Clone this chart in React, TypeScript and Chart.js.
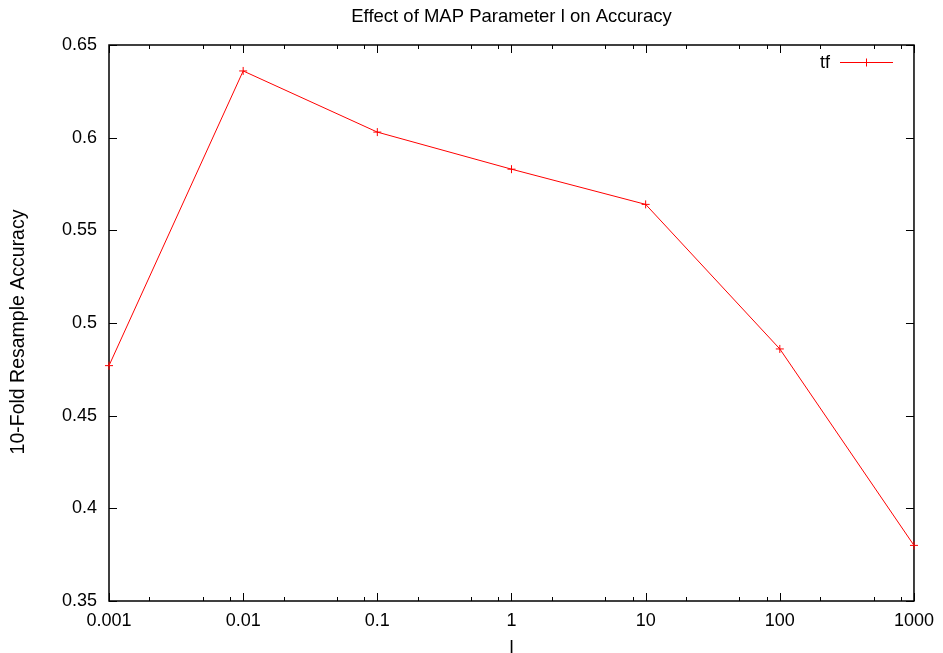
import React, { useEffect, useRef } from "react";
import Chart from "chart.js/auto";

// MAP parameter l (log scale) and the measured accuracy for the "tf" run
const paramValues = [0.001, 0.01, 0.1, 1, 10, 100, 1000];
const accuracyTf = [0.477, 0.636, 0.603, 0.583, 0.564, 0.486, 0.380];

const xTickValues = [0.001, 0.01, 0.1, 1, 10, 100, 1000];
const xTickLabels = ["0.001", "0.01", "0.1", "1", "10", "100", "1000"];
const yTickValues = [0.35, 0.4, 0.45, 0.5, 0.55, 0.6, 0.65];
const yTickLabels = ["0.35", "0.4", "0.45", "0.5", "0.55", "0.6", "0.65"];
const xMinorFactors = [2, 5, 8];

const chartTitle = "Effect of MAP Parameter l on Accuracy";
const xTitle = "l";
const yTitle = "10-Fold Resample Accuracy";
const seriesName = "tf";

const FONT = '"Liberation Sans", Arial, sans-serif';
const RED = "#ff0000";

function drawCross(ctx: CanvasRenderingContext2D, x: number, y: number, r: number) {
  ctx.beginPath();
  ctx.moveTo(x - r, y);
  ctx.lineTo(x + r, y);
  ctx.moveTo(x, y - r);
  ctx.lineTo(x, y + r);
  ctx.stroke();
}

// Frame with inward ticks mirrored on all four sides, plus titles and legend
const gnuplotFrame = {
  id: "gnuplotFrame",
  beforeDatasetsDraw(chart: any) {
    const ctx: CanvasRenderingContext2D = chart.ctx;
    const { left, right, top, bottom } = chart.chartArea;
    const xs = chart.scales.x;
    const ys = chart.scales.y;
    ctx.save();
    ctx.strokeStyle = "#000";
    ctx.lineWidth = 1.5;
    ctx.strokeRect(left, top, right - left, bottom - top);
    ctx.lineWidth = 1;
    const major = 8;
    const minor = 4;
    ctx.beginPath();
    for (const v of xTickValues) {
      const px = Math.round(xs.getPixelForValue(v)) + 0.5;
      ctx.moveTo(px, bottom);
      ctx.lineTo(px, bottom - major);
      ctx.moveTo(px, top);
      ctx.lineTo(px, top + major);
      if (v < 1000) {
        for (const f of xMinorFactors) {
          const mx = Math.round(xs.getPixelForValue(v * f)) + 0.5;
          ctx.moveTo(mx, bottom);
          ctx.lineTo(mx, bottom - minor);
          ctx.moveTo(mx, top);
          ctx.lineTo(mx, top + minor);
        }
      }
    }
    for (const v of yTickValues) {
      const py = Math.round(ys.getPixelForValue(v)) + 0.5;
      ctx.moveTo(left, py);
      ctx.lineTo(left + major, py);
      ctx.moveTo(right, py);
      ctx.lineTo(right - major, py);
    }
    ctx.stroke();

    ctx.fillStyle = "#000";
    ctx.font = `18.5px ${FONT}`;
    ctx.textAlign = "center";
    ctx.textBaseline = "middle";
    ctx.fillText(chartTitle, (left + right) / 2, 17);
    ctx.fillText(xTitle, (left + right) / 2, 648);
    ctx.save();
    ctx.font = `19.5px ${FONT}`;
    ctx.translate(19, 332);
    ctx.rotate(-Math.PI / 2);
    ctx.fillText(yTitle, 0, 0);
    ctx.restore();

    // legend entry
    ctx.font = `18px ${FONT}`;
    ctx.textAlign = "right";
    ctx.fillText(seriesName, 830, 63);
    ctx.strokeStyle = RED;
    ctx.lineWidth = 1;
    ctx.beginPath();
    ctx.moveTo(840, 62.5);
    ctx.lineTo(893, 62.5);
    ctx.stroke();
    drawCross(ctx, 866.5, 62.5, 4);
    ctx.restore();
  },
};

export default function App() {
  const canvasRef = useRef<HTMLCanvasElement | null>(null);

  useEffect(() => {
    const canvas = canvasRef.current;
    if (!canvas) return;
    const chart = new Chart(canvas, {
      type: "line",
      data: {
        datasets: [
          {
            label: seriesName,
            data: paramValues.map((x, i) => ({ x, y: accuracyTf[i] })),
            borderColor: RED,
            backgroundColor: RED,
            borderWidth: 1,
            pointStyle: "cross",
            pointRadius: 4,
            pointBorderWidth: 1,
            pointBorderColor: RED,
            tension: 0,
            fill: false,
            clip: false as any,
          },
        ],
      },
      options: {
        animation: false,
        responsive: false,
        maintainAspectRatio: false,
        layout: { padding: { top: 45, right: 27, left: 0, bottom: 0 } },
        plugins: {
          legend: { display: false },
          title: { display: false },
          tooltip: { enabled: false },
        },
        events: [],
        scales: {
          x: {
            type: "logarithmic",
            min: 0.001,
            max: 1000,
            grid: { display: false, drawTicks: false },
            border: { display: false },
            afterBuildTicks: (scale: any) => {
              scale.ticks = xTickValues.map((v) => ({ value: v }));
            },
            afterFit: (scale: any) => {
              scale.height = 52;
            },
            ticks: {
              autoSkip: false,
              maxRotation: 0,
              padding: 9,
              color: "#000",
              font: { family: FONT, size: 18 },
              callback: (_v: any, i: number) => xTickLabels[i],
            },
          },
          y: {
            type: "linear",
            min: 0.35,
            max: 0.65,
            grid: { display: false, drawTicks: false },
            border: { display: false },
            afterBuildTicks: (scale: any) => {
              scale.ticks = yTickValues.map((v) => ({ value: v }));
            },
            afterFit: (scale: any) => {
              scale.width = 109;
            },
            ticks: {
              autoSkip: false,
              padding: 12,
              color: "#000",
              font: { family: FONT, size: 18 },
              callback: (_v: any, i: number) => yTickLabels[i],
            },
          },
        },
      },
      plugins: [gnuplotFrame],
    });
    return () => chart.destroy();
  }, []);

  return (
    <div style={{ position: "fixed", left: 0, top: 0, width: 943, height: 653, background: "#fff" }}>
      <canvas ref={canvasRef} width={943} height={653} style={{ width: 943, height: 653, display: "block" }} />
    </div>
  );
}
